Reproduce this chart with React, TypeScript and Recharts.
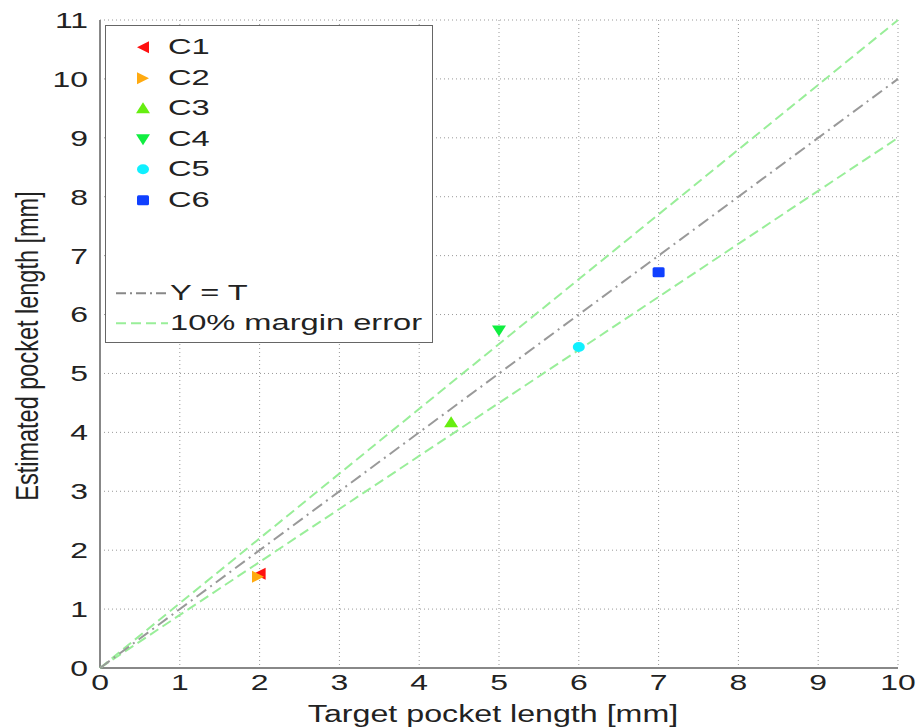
import React from "react";
import { ScatterChart, Scatter, XAxis, YAxis, CartesianGrid } from "recharts";

const xTicks = [0, 1, 2, 3, 4, 5, 6, 7, 8, 9, 10];
const yTicks = [0, 1, 2, 3, 4, 5, 6, 7, 8, 9, 10, 11];

const seriesNames = ["C1", "C2", "C3", "C4", "C5", "C6"];
const seriesColors = ["#ff1010", "#ffaa10", "#66ee10", "#10ee40", "#10f0ff", "#1040ff"];
const seriesX = [2, 1.98, 4.4, 5, 6, 7];
const seriesY = [1.6, 1.55, 4.17, 5.73, 5.45, 6.72];

const lineX = [0, 10];
const identityY = [0, 10];
const upperY = [0, 11];
const lowerY = [0, 9];

const identityLine = lineX.map((x, i) => ({ x, y: identityY[i] }));
const upperLine = lineX.map((x, i) => ({ x, y: upperY[i] }));
const lowerLine = lineX.map((x, i) => ({ x, y: lowerY[i] }));

const FONT = "'Liberation Sans', Arial, sans-serif";
const SX = 1.45;

type MarkerProps = { cx?: number; cy?: number; kind: number; color: string };

const Marker = ({ cx = 0, cy = 0, kind, color }: MarkerProps) => {
  const s = 6;
  switch (kind) {
    case 0:
      return <polygon points={`${cx - s},${cy} ${cx + s},${cy - s} ${cx + s},${cy + s}`} fill={color} />;
    case 1:
      return <polygon points={`${cx + s},${cy} ${cx - s},${cy - s} ${cx - s},${cy + s}`} fill={color} />;
    case 2:
      return <polygon points={`${cx},${cy - s} ${cx - s - 1},${cy + s - 1} ${cx + s + 1},${cy + s - 1}`} fill={color} />;
    case 3:
      return <polygon points={`${cx},${cy + s} ${cx - s - 1},${cy - s + 1} ${cx + s + 1},${cy - s + 1}`} fill={color} />;
    case 4:
      return <ellipse cx={cx} cy={cy} rx={6} ry={5} fill={color} />;
    default:
      return <rect x={cx - 6} y={cy - 5} width={12} height={10} rx={1.5} fill={color} />;
  }
};

const XTick = (p: any) => (
  <text
    transform={`translate(${p.x},${p.y + 4}) scale(${SX},1)`}
    textAnchor="middle"
    dy="0.72em"
    fill="#222"
    fontSize={22}
    fontFamily={FONT}
  >
    {p.payload.value}
  </text>
);

const YTick = (p: any) => (
  <text
    transform={`translate(${p.x - 10},${p.y}) scale(${SX},1)`}
    textAnchor="end"
    dy="0.36em"
    fill="#222"
    fontSize={22}
    fontFamily={FONT}
  >
    {p.payload.value}
  </text>
);

const XTitle = (p: any) => {
  const vb = p.viewBox || {};
  return (
    <text
      transform={`translate(${vb.x + vb.width / 2 - 6},${vb.y + vb.height - 5}) scale(1.4,1)`}
      textAnchor="middle"
      fill="#222"
      fontSize={23}
      fontFamily={FONT}
    >
      Target pocket length [mm]
    </text>
  );
};

const YTitle = (p: any) => {
  const vb = p.viewBox || {};
  return (
    <text
      transform={`translate(${vb.x + 30},${vb.y + vb.height / 2 + 2}) rotate(-90) scale(1,1.35)`}
      textAnchor="middle"
      fill="#222"
      fontSize={23.5}
      fontFamily={FONT}
    >
      Estimated pocket length [mm]
    </text>
  );
};

const LegendBox = () => {
  const rowH = 30.5;
  const textStyle: React.CSSProperties = { display: "inline-block", transform: `scaleX(${SX})`, transformOrigin: "left center" };
  return (
    <div
      style={{
        position: "absolute",
        left: 97,
        top: 17,
        width: 328,
        height: 318,
        border: "1.5px solid #666",
        background: "#fff",
        boxSizing: "border-box",
        fontFamily: FONT,
        fontSize: 22.5,
        color: "#222",
      }}
    >
      {seriesNames.map((n, i) => (
        <div key={n} style={{ position: "absolute", left: 0, top: 6 + i * rowH, height: rowH, display: "flex", alignItems: "center" }}>
          <svg width={50} height={rowH} style={{ marginLeft: 12 }}>
            <Marker cx={25} cy={rowH / 2} kind={i} color={seriesColors[i]} />
          </svg>
          <span style={{ ...textStyle, marginLeft: 0 }}>{n}</span>
        </div>
      ))}
      <div style={{ position: "absolute", left: 0, top: 252, height: rowH, display: "flex", alignItems: "center" }}>
        <svg width={58} height={rowH} style={{ marginLeft: 6 }}>
          <line x1={4} y1={rowH / 2} x2={56} y2={rowH / 2} stroke="#888" strokeWidth={1.8} strokeDasharray="10 4 2 4" />
        </svg>
        <span style={textStyle}>Y = T</span>
      </div>
      <div style={{ position: "absolute", left: 0, top: 282, height: rowH, display: "flex", alignItems: "center" }}>
        <svg width={58} height={rowH} style={{ marginLeft: 6 }}>
          <line x1={4} y1={rowH / 2} x2={56} y2={rowH / 2} stroke="#99ee99" strokeWidth={1.8} strokeDasharray="10 5" />
        </svg>
        <span style={textStyle}>10% margin error</span>
      </div>
    </div>
  );
};

export default function App() {
  return (
    <div style={{ background: "#fff", position: "relative", width: 916, height: 719 }}>
      <ScatterChart width={916} height={719} margin={{ top: 12, right: 26, bottom: 0, left: 0 }}>
        <CartesianGrid stroke="#999" strokeDasharray="1 3" />
        <XAxis
          type="number"
          dataKey="x"
          domain={[0, 10]}
          ticks={xTicks}
          interval={0}
          height={59}
          tickLine={false}
          tickSize={0}
          axisLine={{ stroke: "#888", strokeWidth: 2 }}
          tick={<XTick />}
          label={<XTitle />}
        />
        <YAxis
          type="number"
          dataKey="y"
          domain={[0, 11]}
          ticks={yTicks}
          interval={0}
          width={92}
          tickLine={false}
          tickSize={0}
          axisLine={{ stroke: "#888", strokeWidth: 2 }}
          tick={<YTick />}
          label={<YTitle />}
        />
        <Scatter data={upperLine} line={{ stroke: "#99ee99", strokeWidth: 2, strokeDasharray: "10 5" }} shape={() => <g />} isAnimationActive={false} />
        <Scatter data={lowerLine} line={{ stroke: "#99ee99", strokeWidth: 2, strokeDasharray: "10 5" }} shape={() => <g />} isAnimationActive={false} />
        <Scatter data={identityLine} line={{ stroke: "#999", strokeWidth: 2, strokeDasharray: "12 5 2 5" }} shape={() => <g />} isAnimationActive={false} />
        {seriesNames.map((n, i) => (
          <Scatter
            key={n}
            name={n}
            data={[{ x: seriesX[i], y: seriesY[i] }]}
            isAnimationActive={false}
            shape={(p: any) => <Marker cx={p.cx} cy={p.cy} kind={i} color={seriesColors[i]} />}
          />
        ))}
      </ScatterChart>
      <LegendBox />
    </div>
  );
}
